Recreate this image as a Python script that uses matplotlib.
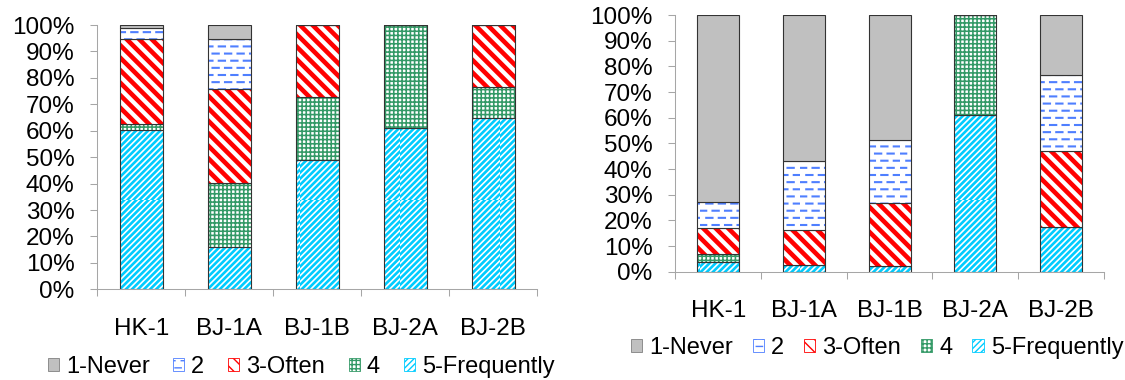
import numpy as np
import matplotlib
matplotlib.use('Agg')
import matplotlib.pyplot as plt
import matplotlib.hatch as mhatch
from matplotlib.path import Path
from matplotlib.patches import Patch
from matplotlib.ticker import FuncFormatter

sites = ['HK-1', 'BJ-1A', 'BJ-1B', 'BJ-2A', 'BJ-2B']
levels = ['1-Never', '2', '3-Often', '4', '5-Frequently']

## share of answers (%) per level, left chart
never_l = [1.3, 5.4, 0, 0, 0]
two_l = [3.9, 18.9, 0, 0, 0]
often_l = [32.3, 35.6, 27.1, 0, 23.5]
four_l = [2.2, 24.0, 24.1, 39.1, 11.8]
freq_l = [60.3, 16.1, 48.8, 60.9, 64.7]

## share of answers (%) per level, right chart
never_r = [72.9, 57.0, 48.8, 0, 23.5]
two_r = [10.0, 26.9, 24.6, 0, 29.4]
often_r = [10.2, 13.6, 24.4, 0, 29.8]
four_r = [3.0, 0, 0, 39.1, 0]
freq_r = [3.9, 2.5, 2.2, 60.9, 17.3]

plt.rcParams['font.family'] = ['Liberation Sans', 'DejaVu Sans']


##Excel-like fills: staggered dashes, fine check grid, diagonals
##(hatch tile is one inch = 100 px here; diagonal lines are spaced 2/num_lines)
class DashRows(mhatch.HatchPatternBase):
    def __init__(self, hatch, density):
        self.rows = hatch.count('-') * 14
        self.cols = 8
        self.num_vertices = self.rows * self.cols * 2

    def set_vertices_and_codes(self, vertices, codes):
        k = 0
        for i in range(self.rows):
            y = (i + 0.5) / self.rows
            shift = 0.5 * (i % 2)
            for j in range(self.cols):
                x0 = (j + shift) / self.cols
                vertices[k] = (x0, y)
                vertices[k + 1] = (x0 + 0.5 / self.cols, y)
                codes[k] = Path.MOVETO
                codes[k + 1] = Path.LINETO
                k += 2


class Grid(mhatch.HatchPatternBase):
    def __init__(self, hatch, density):
        self.n = hatch.count('+') * 6
        self.num_vertices = self.n * 4

    def set_vertices_and_codes(self, vertices, codes):
        steps = (np.arange(self.n) + 0.5) / self.n
        h = vertices[:self.n * 2]
        v = vertices[self.n * 2:]
        h[0::2, 0] = 0.0
        h[0::2, 1] = steps
        h[1::2, 0] = 1.0
        h[1::2, 1] = steps
        v[0::2, 0] = steps
        v[0::2, 1] = 0.0
        v[1::2, 0] = steps
        v[1::2, 1] = 1.0
        codes[0::2] = Path.MOVETO
        codes[1::2] = Path.LINETO


class FwdDiag(mhatch.NorthEastHatch):
    def __init__(self, hatch, density):
        self.num_lines = hatch.count('/') * 11
        self.num_vertices = (self.num_lines + 1) * 2 if self.num_lines else 0


class BackDiag(mhatch.SouthEastHatch):
    def __init__(self, hatch, density):
        self.num_lines = hatch.count('\\') * 8
        self.num_vertices = (self.num_lines + 1) * 2 if self.num_lines else 0


mhatch._hatch_types[:] = [DashRows, Grid, FwdDiag, BackDiag]

##style per level: face, hatch, hatch colour, hatch linewidth
styles = {
    '1-Never': ('#C0C0C0', None, '#C0C0C0', 1.0),
    '2': ('white', '-', '#4F7FFF', 1.5),
    '3-Often': ('white', '\\\\', '#FF0000', 3.3),
    '4': ('white', '++++', '#339966', 1.15),
    '5-Frequently': ('white', '///', '#00CCFF', 1.9),
}
axcol = '#A6A6A6'


def stacked(ax, series):
    x = np.arange(len(sites))
    bottom = np.zeros(len(sites))
    ##draw from the bottom: 5-Frequently first
    for name in levels[::-1]:
        vals = np.array(series[name], dtype=float)
        face, hatch, hcol, hlw = styles[name]
        with plt.rc_context({'hatch.linewidth': hlw}):
            bars = ax.bar(x, vals, 0.49, bottom=bottom, color=face,
                          edgecolor=hcol, linewidth=0, hatch=hatch)
        for b in bars:
            if hasattr(b, 'set_hatch_linewidth'):
                b.set_hatch_linewidth(hlw)
        ax.bar(x, vals, 0.49, bottom=bottom, fill=False,
               edgecolor='#333333', linewidth=0.8)
        bottom += vals
    ax.set_xlim(-0.5, 4.5)
    ax.set_ylim(0, 100)
    ax.set_yticks(np.arange(0, 101, 10))
    ax.yaxis.set_major_formatter(FuncFormatter(lambda v, p: '%d%%' % v))
    ax.set_xticks(x)
    ax.set_xticklabels(sites)
    ax.set_xticks(np.arange(-0.5, 5, 1), minor=True)
    ax.tick_params(axis='x', which='major', length=0, pad=20.5, labelsize=17.5)
    ax.tick_params(axis='x', which='minor', length=5, color=axcol, width=0.75)
    ax.tick_params(axis='y', length=5, color=axcol, width=0.75, pad=11.5,
                   labelsize=17.5)
    for s in ['top', 'right']:
        ax.spines[s].set_visible(False)
    for s in ['left', 'bottom']:
        ax.spines[s].set_color(axcol)
        ax.spines[s].set_linewidth(0.75)


def legend_handles():
    hs = []
    for name in levels:
        face, hatch, hcol, hlw = styles[name]
        if hatch is None:
            hcol = '#808080'
        with plt.rc_context({'hatch.linewidth': hlw}):
            p = Patch(facecolor=face, edgecolor=hcol, hatch=hatch, linewidth=0.6)
        hs.append(p)
    return hs


fig = plt.figure(figsize=(11.25, 3.8), dpi=100)
axl = fig.add_axes([0.0865, 0.2387, 0.3911, 0.6955])
axr = fig.add_axes([0.6003, 0.2850, 0.3808, 0.6755])

stacked(axl, {'1-Never': never_l, '2': two_l, '3-Often': often_l,
              '4': four_l, '5-Frequently': freq_l})
stacked(axr, {'1-Never': never_r, '2': two_r, '3-Often': often_r,
              '4': four_r, '5-Frequently': freq_r})

for anchor, gap in [((301 / 1125, 1 - 367 / 380), 1.0),
                    ((877 / 1125, 1 - 348 / 380), 0.85)]:
    fig.legend(legend_handles(), levels, loc='center', bbox_to_anchor=anchor,
               ncol=5, frameon=False, fontsize=17, handlelength=0.47,
               handleheight=0.47, handletextpad=0.3, columnspacing=gap,
               borderpad=0, borderaxespad=0)

fig.savefig('out.png', dpi=100)
